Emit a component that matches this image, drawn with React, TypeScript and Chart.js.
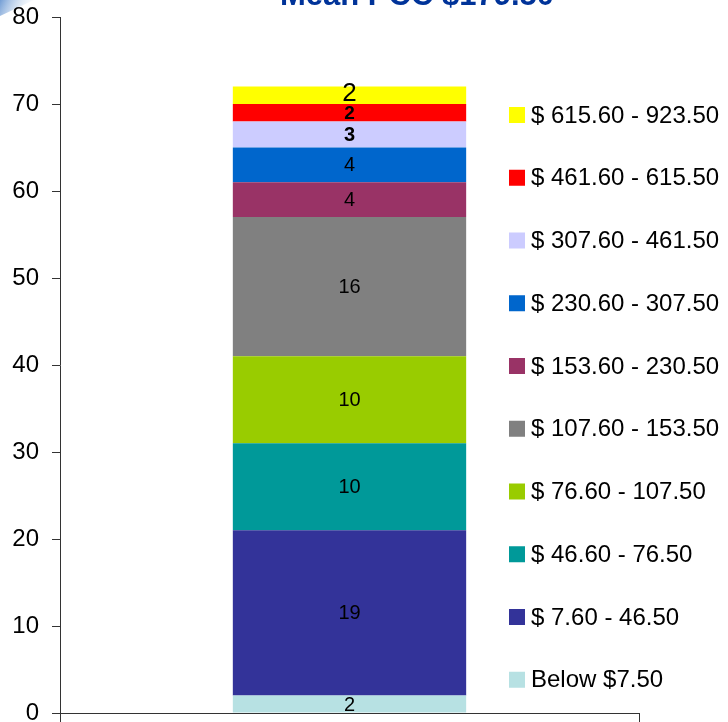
import React, { useEffect, useRef } from "react";
import { Chart, registerables } from "chart.js";

Chart.register(...registerables);

// ---- data ----
const categories = [""];
const seriesLabels = [
  "Below $7.50",
  "$ 7.60 - 46.50",
  "$ 46.60 - 76.50",
  "$ 76.60 - 107.50",
  "$ 107.60 - 153.50",
  "$ 153.60 - 230.50",
  "$ 230.60 - 307.50",
  "$ 307.60 - 461.50",
  "$ 461.60 - 615.50",
  "$ 615.60 - 923.50",
];
const seriesValues = [2, 19, 10, 10, 16, 4, 4, 3, 2, 2];
const yMin = 0;
const yMax = 80;
const yStep = 10;
const titleText = "Mean PCC $179.50";

// ---- styles ----
const seriesColors = [
  "#B7E1E3",
  "#333399",
  "#009999",
  "#99CC00",
  "#808080",
  "#993366",
  "#0066CC",
  "#CCCCFF",
  "#FF0000",
  "#FFFF00",
];
const labelFonts = [
  "20px 'Liberation Sans'",
  "20px 'Liberation Sans'",
  "20px 'Liberation Sans'",
  "20px 'Liberation Sans'",
  "20px 'Liberation Sans'",
  "20px 'Liberation Sans'",
  "20px 'Liberation Sans'",
  "bold 20px 'Liberation Sans'",
  "bold 19px 'Liberation Sans'",
  "26px 'Liberation Sans'",
];
const labelShift = [0, 0, 0, 0, 0, 0, 0, 0, 0, -2];

const dataLabelPlugin = {
  id: "dataLabels",
  afterDatasetsDraw(chart: any) {
    const ctx = chart.ctx;
    ctx.save();
    ctx.fillStyle = "#000";
    ctx.textAlign = "center";
    ctx.textBaseline = "middle";
    chart.data.datasets.forEach((ds: any, i: number) => {
      const meta = chart.getDatasetMeta(i);
      meta.data.forEach((el: any, j: number) => {
        const v = ds.data[j];
        const cy = (el.y + el.base) / 2 + labelShift[i];
        ctx.font = labelFonts[i];
        ctx.fillText(String(v), el.x, cy + 1);
      });
    });
    ctx.restore();
  },
};

const legendPlugin = {
  id: "customLegend",
  afterDraw(chart: any) {
    const ctx = chart.ctx;
    const n = chart.data.datasets.length;
    const topY = 115;
    const gap = 62.75;
    ctx.save();
    ctx.font = "24px 'Liberation Sans'";
    ctx.textAlign = "left";
    ctx.textBaseline = "middle";
    for (let k = 0; k < n; k++) {
      const i = n - 1 - k;
      const ds = chart.data.datasets[i];
      const cy = topY + k * gap;
      ctx.fillStyle = ds.backgroundColor;
      ctx.fillRect(509, cy - 8, 16, 16);
      ctx.fillStyle = "#000";
      ctx.fillText(ds.label, 531, cy + 1);
    }
    ctx.restore();
  },
};

const titlePlugin = {
  id: "customTitle",
  afterDraw(chart: any) {
    const ctx = chart.ctx;
    ctx.save();
    ctx.font = "bold 31px 'Liberation Sans'";
    ctx.fillStyle = "#003399";
    ctx.textAlign = "center";
    ctx.textBaseline = "alphabetic";
    ctx.fillText(titleText, 417, 5);
    ctx.restore();
  },
};

const cornerPlugin = {
  id: "corner",
  beforeDraw(chart: any) {
    const ctx = chart.ctx;
    ctx.save();
    ctx.fillStyle = "#fff";
    ctx.fillRect(0, 0, chart.width, chart.height);
    const g = ctx.createLinearGradient(0, 0, 30, 14);
    g.addColorStop(0, "rgba(90,140,205,0.85)");
    g.addColorStop(1, "rgba(200,220,240,0)");
    ctx.fillStyle = g;
    ctx.beginPath();
    ctx.moveTo(0, 0);
    ctx.lineTo(34, 0);
    ctx.lineTo(0, 16);
    ctx.closePath();
    ctx.fill();
    ctx.restore();
  },
};

export default function App() {
  const ref = useRef<HTMLCanvasElement | null>(null);
  useEffect(() => {
    if (!ref.current) return;
    const chart = new Chart(ref.current, {
      type: "bar",
      data: {
        labels: categories,
        datasets: seriesValues.map((v, i) => ({
          label: seriesLabels[i],
          data: [v],
          backgroundColor: seriesColors[i],
          borderWidth: 0,
          barPercentage: 0.403,
          categoryPercentage: 1,
        })),
      },
      options: {
        responsive: false,
        animation: false,
        layout: { padding: { left: 0, right: 89, top: 17, bottom: 9 } },
        plugins: {
          legend: { display: false },
          title: { display: false },
          tooltip: { enabled: false },
        },
        scales: {
          x: {
            stacked: true,
            offset: true,
            ticks: { display: false },
            grid: {
              display: true,
              offset: true,
              drawOnChartArea: false,
              drawTicks: true,
              tickLength: 9,
              color: "#333",
            },
            border: { display: true, color: "#333", width: 1 },
            afterFit: (s: any) => {
              s.height = 0;
              s.paddingLeft = 0;
              s.paddingRight = 0;
              s.paddingTop = 0;
              s.paddingBottom = 0;
            },
          },
          y: {
            stacked: true,
            min: yMin,
            max: yMax,
            ticks: {
              stepSize: yStep,
              color: "#000",
              padding: 13,
              font: { family: "'Liberation Sans'", size: 24 },
            },
            grid: {
              display: true,
              drawOnChartArea: false,
              drawTicks: true,
              tickLength: 8,
              color: "#333",
            },
            border: { display: true, color: "#333", width: 1 },
            afterFit: (s: any) => {
              s.width = 60;
              s.paddingTop = 0;
              s.paddingBottom = 0;
              s.paddingLeft = 0;
              s.paddingRight = 0;
            },
          },
        },
      },
      plugins: [cornerPlugin, dataLabelPlugin, legendPlugin, titlePlugin],
    });
    return () => chart.destroy();
  }, []);
  return (
    <div style={{ position: "absolute", left: 0, top: 0, width: 728, height: 722 }}>
      <canvas ref={ref} width={728} height={722} style={{ display: "block" }} />
    </div>
  );
}
